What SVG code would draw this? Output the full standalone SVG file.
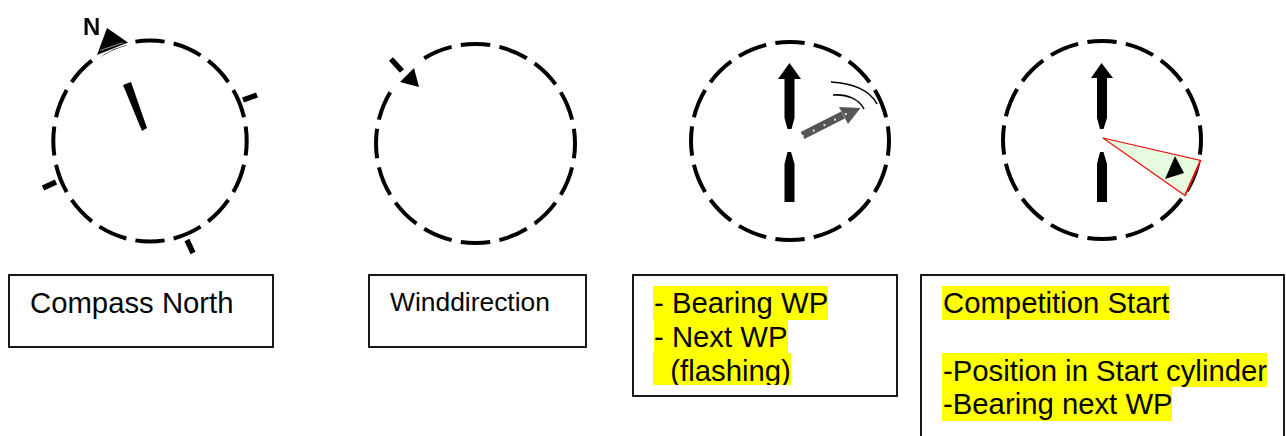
<svg xmlns="http://www.w3.org/2000/svg" width="1286" height="436" viewBox="0 0 1286 436">
<style>
.ring{fill:none;stroke:#050505;stroke-width:4}
.tick{fill:none;stroke:#050505;stroke-width:5.5}
.wipe{fill:none;stroke:#fff;stroke-width:8}
.ink{fill:#050505;stroke:none}
.box{fill:#fff;stroke:#000;stroke-width:1.8}
.hl{fill:#ffff00;stroke:none}
.t{font-family:"Liberation Sans",Arial,sans-serif;font-size:29.3px;fill:#050505}
.arc{fill:none;stroke:#050505;stroke-width:1.6}
.soft{filter:url(#soft)}
</style>
<defs>
<clipPath id="clip3"><rect x="633" y="275" width="264" height="110"/></clipPath>
<filter id="soft" x="-5%" y="-5%" width="110%" height="110%"><feGaussianBlur stdDeviation="0.5"/></filter>
</defs>
<rect width="1286" height="436" fill="#fff"/>
<g id="compass-north" class="soft">
<ellipse class="ring" cx="150" cy="141" rx="96.7" ry="100.5" pathLength="320" stroke-dasharray="15.2 4.8" stroke-dashoffset="7.6"/>
<path class="wipe" d="M134 40Q112 42 94 57"/>
<path d="M243 100L257 95M43 188L56 182M187 240L193 253" class="tick"/>
<polygon class="ink" points="107,28 128,42.5 97,55"/>
<path d="M100 50.5L123 42.7" stroke="#fff" stroke-width="0.8" opacity="0.7" fill="none"/>
<text x="83" y="35" style="font-family:'Liberation Sans',Arial,sans-serif;font-size:24px;font-weight:bold" fill="#111">N</text>
<polygon class="ink" points="123,85 131,82 147,128 142,131"/>
</g>
<g id="wind-direction" class="soft">
<circle class="ring" cx="475.5" cy="143.5" r="99.5" pathLength="320" stroke-dasharray="15.2 4.8" stroke-dashoffset="7.6"/>
<path class="wipe" d="M422 58A100 100 0 0 0 391 91"/>
<path d="M391 59L402 71" class="tick"/>
<polygon class="ink" points="414,68 419,87 400,82"/>
</g>
<g id="bearing-wp" class="soft">
<circle class="ring" cx="790" cy="141" r="99" pathLength="320" stroke-dasharray="15.2 4.8" stroke-dashoffset="7.6"/>
<polygon class="ink" points="789.5,63 801,79 794.5,79 794.5,118 791.5,129 787.5,129 784.5,118 784.5,79 778,79"/>
<polygon class="ink" points="787.5,152 791,152 794.5,164 794.5,202 784.5,202 784.5,164"/>
<path d="M802.5 135.5L843 115" stroke="#555" stroke-width="8" fill="none"/>
<polygon fill="#555" points="860.5,108 839,107 848,124"/>
<path d="M803 136L856 109" stroke="#eee" stroke-width="2.2" stroke-linecap="round" stroke-dasharray="0 12" fill="none"/>
<path class="arc" d="M831 82C852 83 870 90 877 104M833 95C847 94 859 99 864 109"/>
</g>
<g id="competition-start" class="soft">
<circle class="ring" cx="1102" cy="140" r="99" pathLength="320" stroke-dasharray="15.2 4.8" stroke-dashoffset="7.6"/>
<polygon class="ink" points="1101.5,63 1113,78 1107,78 1107,118 1103.5,129 1100,129 1097,118 1097,78 1091,78"/>
<polygon class="ink" points="1100,152 1103.5,152 1107,164 1107,202 1097,202 1097,164"/>
<polygon points="1103,138 1200.5,160.5 1185,195.5" fill="#e6fbe0" stroke="#f01010" stroke-width="1.2"/>
<path d="M1200.5 160.5L1185 195.5" stroke="#f01010" stroke-width="1.8" fill="none"/>
<polygon class="ink" points="1175,156 1184,173 1165,179"/>
</g>
<g id="label-compass-north">
<rect class="box" x="9" y="275" width="264" height="72"/>
<text class="t" x="30" y="313">Compass North</text>
</g>
<g id="label-winddirection">
<rect class="box" x="369" y="275" width="217" height="72"/>
<text class="t" x="390" y="311" style="font-size:26.4px">Winddirection</text>
</g>
<g id="label-bearing-wp">
<rect class="box" x="633" y="275" width="264" height="121"/>
<rect class="hl" x="653" y="286" width="175" height="34"/>
<rect class="hl" x="654" y="320" width="134" height="33.5"/>
<rect class="hl" x="653" y="353" width="138" height="32"/>
<text class="t" x="654" y="313">- Bearing WP</text>
<text class="t" x="654" y="347">- Next WP</text>
<text class="t" x="654" y="381" clip-path="url(#clip3)" xml:space="preserve">  (flashing)</text>
</g>
<g id="label-competition-start">
<rect class="box" x="921" y="275" width="363" height="170"/>
<rect class="hl" x="942" y="286" width="227" height="34"/>
<rect class="hl" x="942" y="353" width="325" height="34"/>
<rect class="hl" x="942" y="387" width="230" height="34"/>
<text class="t" x="943" y="313">Competition Start</text>
<text class="t" x="943" y="381">-Position in Start cylinder</text>
<text class="t" x="943" y="414">-Bearing next WP</text>
</g>
</svg>
